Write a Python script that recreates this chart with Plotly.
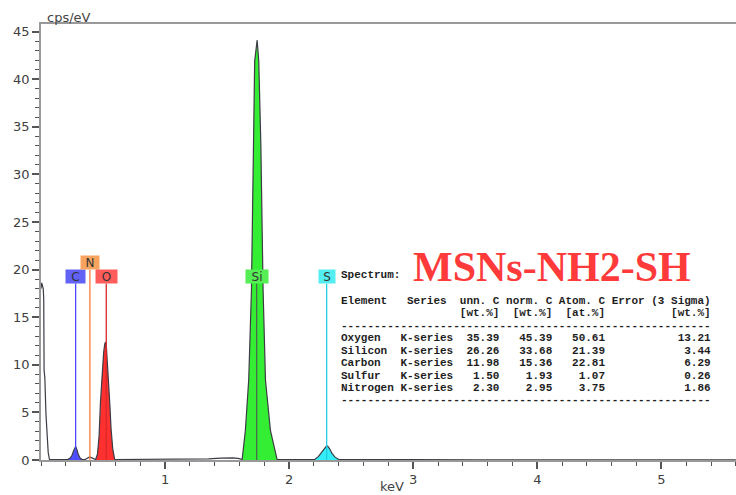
import plotly.graph_objects as go

# ---------------- data ----------------
# spectrum segments: energy (keV) and counts (cps/eV)
noise_e = [0.000, 0.006, 0.018, 0.022, 0.025, 0.031, 0.040, 0.050, 0.058, 0.068]
noise_c = [18.0, 18.6, 18.0, 17.0, 9.4, 8.6, 4.8, 2.0, 0.8, 0.05]

base1_e = [0.09, 0.13, 0.17, 0.20]
base1_c = [0.04, 0.06, 0.05, 0.06]

c_e = [0.215, 0.235, 0.250, 0.262, 0.272, 0.279, 0.288, 0.300, 0.315, 0.332]
c_c = [0.05, 0.20, 0.50, 0.95, 1.35, 1.42, 1.15, 0.60, 0.20, 0.05]

n_e = [0.355, 0.375, 0.392, 0.410, 0.430]
n_c = [0.05, 0.22, 0.32, 0.22, 0.05]

o_e = [0.440, 0.455, 0.468, 0.479, 0.492, 0.505, 0.514, 0.520, 0.526, 0.536, 0.546, 0.554, 0.565, 0.578, 0.594]
o_c = [0.05, 0.60, 2.50, 6.00, 9.00, 11.3, 12.2, 12.4, 12.1, 10.3, 8.00, 6.00, 3.20, 1.20, 0.05]

base2_e = [0.65, 0.80, 1.00, 1.20, 1.35, 1.45, 1.55, 1.60]
base2_c = [0.05, 0.06, 0.08, 0.05, 0.12, 0.20, 0.22, 0.15]

si_e = [1.621, 1.647, 1.674, 1.696, 1.701, 1.712, 1.722, 1.742, 1.755, 1.772, 1.782, 1.790, 1.809, 1.849, 1.903]
si_c = [0.05, 3.1, 8.4, 17.8, 23.0, 33.0, 41.9, 44.1, 41.9, 33.0, 23.0, 17.8, 8.4, 3.1, 0.05]

base3_e = [1.95, 2.05, 2.15]
base3_c = [0.05, 0.04, 0.06]

s_e = [2.205, 2.235, 2.260, 2.285, 2.300, 2.310, 2.325, 2.345, 2.370, 2.400]
s_c = [0.05, 0.35, 0.80, 1.25, 1.45, 1.45, 1.20, 0.70, 0.30, 0.05]

base4_e = [2.50, 3.00, 3.50, 4.00, 4.50, 5.00, 5.60]
base4_c = [0.04, 0.03, 0.02, 0.02, 0.02, 0.02, 0.02]

# element marker lines
el_names = ["C", "N", "O", "Si", "S"]
el_energy = [0.279, 0.394, 0.526, 1.738, 2.302]
el_label_y = [19.27, 20.7, 19.27, 19.27, 19.27]
el_line_col = ["#4848ff", "#ff7a3a", "#d82828", "#4d6a4d", "#22cde0"]
el_box_col = ["#6262f6", "#f8a45e", "#ff5c5c", "#55ee55", "#55eef0"]
el_box_w = [19, 18, 21, 22, 16]

# quantification table
tbl_elem = ["Oxygen", "Silicon", "Carbon", "Sulfur", "Nitrogen"]
tbl_series = ["K-series"] * 5
tbl_unn = ["35.39", "26.26", "11.98", "1.50", "2.30"]
tbl_norm = ["45.39", "33.68", "15.36", "1.93", "2.95"]
tbl_atom = ["50.61", "21.39", "22.81", "1.07", "3.75"]
tbl_err = ["13.21", "3.44", "6.29", "0.26", "1.86"]

x_ticks = [1, 2, 3, 4, 5]
y_ticks = [0, 5, 10, 15, 20, 25, 30, 35, 40, 45]

# ---------------- layout geometry ----------------
L, T, W, H = 41, 24, 695, 436
KEV_PX = 124.08
Y_MAX = 45.8


def pxx(px):
    return (px - L) / W


def pxy(py):
    return (T + H - py) / H


fig = go.Figure()

# filled element peaks
for ex, cy, col in [(c_e, c_c, "#5050ff"), (o_e, o_c, "#ff3030"),
                    (si_e, si_c, "#33ee33"), (s_e, s_c, "#33eef8")]:
    fig.add_trace(go.Scatter(x=ex, y=cy, mode="lines", fill="tozeroy",
                             fillcolor=col, line=dict(width=0, color=col),
                             hoverinfo="skip"))

# full spectrum outline
full_e = noise_e + base1_e + c_e + n_e + o_e + base2_e + si_e + base3_e + s_e + base4_e
full_c = noise_c + base1_c + c_c + n_c + o_c + base2_c + si_c + base3_c + s_c + base4_c
fig.add_trace(go.Scatter(x=full_e, y=full_c, mode="lines",
                         line=dict(color="#3c3c44", width=1.2)))

shapes = []
annotations = []
for name, e, ly, lc, bc, bw in zip(el_names, el_energy, el_label_y, el_line_col, el_box_col, el_box_w):
    shapes.append(dict(type="line", xref="x", yref="y", x0=e, x1=e, y0=0, y1=ly - 0.72,
                       line=dict(color=lc, width=1.3)))
    annotations.append(dict(x=e, y=ly, xref="x", yref="y", text=name, showarrow=False,
                            bgcolor=bc, width=bw, height=13, borderpad=0,
                            font=dict(family="DejaVu Sans", size=12, color="#333333")))

# axis titles
annotations.append(dict(x=pxx(45), y=pxy(18), xref="paper", yref="paper", text="cps/eV",
                        showarrow=False, xanchor="left", yanchor="middle",
                        font=dict(family="DejaVu Sans", size=13, color="#444444")))
annotations.append(dict(x=pxx(392), y=pxy(486), xref="paper", yref="paper", text="keV",
                        showarrow=False, xanchor="center", yanchor="middle",
                        font=dict(family="DejaVu Sans", size=13, color="#444444")))

# sample title
annotations.append(dict(x=pxx(552), y=pxy(267), xref="paper", yref="paper", text="<b>MSNs-NH2-SH</b>",
                        showarrow=False, xanchor="center", yanchor="middle",
                        font=dict(family="Liberation Serif", size=42, color="#ff3a3a")))

# table
nb = "\u00a0"
lines = []
lines.append(("Spectrum:", 274.5))
lines.append(("Element   Series  unn. C norm. C Atom. C Error (3 Sigma)", 301))
lines.append((" " * 18 + "[wt.%]  [wt.%]  [at.%]" + " " * 10 + "[wt.%]", 313.3))
lines.append(("-" * 56, 326))
row_y = [338.3, 350.7, 363.2, 375.6, 388]
for i in range(len(tbl_elem)):
    s = f"{tbl_elem[i]:<9}{tbl_series[i]:<8}{tbl_unn[i]:>7}{tbl_norm[i]:>8}{tbl_atom[i]:>8}{tbl_err[i]:>16}"
    lines.append((s, row_y[i]))
lines.append(("-" * 56, 400))
for txt, py in lines:
    annotations.append(dict(x=pxx(339), y=pxy(py), xref="paper", yref="paper",
                            text="<b>" + txt.replace(" ", nb) + "</b>", showarrow=False,
                            xanchor="left", yanchor="middle",
                            font=dict(family="Liberation Mono", size=11, color="#1e1e1e")))

fig.update_layout(
    width=736, height=495,
    margin=dict(l=L, r=736 - L - W, t=T, b=495 - T - H, pad=0),
    paper_bgcolor="white", plot_bgcolor="white",
    showlegend=False,
    shapes=shapes, annotations=annotations,
    xaxis=dict(range=[0, W / KEV_PX], showgrid=False, zeroline=False,
               showline=True, linecolor="#999999", linewidth=1.5, mirror=True,
               tickmode="array", tickvals=x_ticks, ticktext=[str(v) for v in x_ticks],
               ticks="outside", ticklen=7, tickcolor="#555555", tickwidth=1.5,
               minor=dict(ticks="outside", ticklen=4, tickcolor="#555555", tickwidth=1,
                          tick0=0, dtick=0.2, showgrid=False),
               tickfont=dict(family="DejaVu Sans", size=13, color="#404040")),
    yaxis=dict(range=[0, Y_MAX], showgrid=False, zeroline=False,
               showline=True, linecolor="#999999", linewidth=1.5,
               tickmode="array", tickvals=y_ticks, ticktext=[str(v) for v in y_ticks],
               ticks="outside", ticklen=7, tickcolor="#555555", tickwidth=1.5,
               minor=dict(ticks="outside", ticklen=4, tickcolor="#555555", tickwidth=1,
                          tick0=0, dtick=1, showgrid=False),
               tickfont=dict(family="DejaVu Sans", size=13, color="#404040")),
)

fig.write_html("out.html")
